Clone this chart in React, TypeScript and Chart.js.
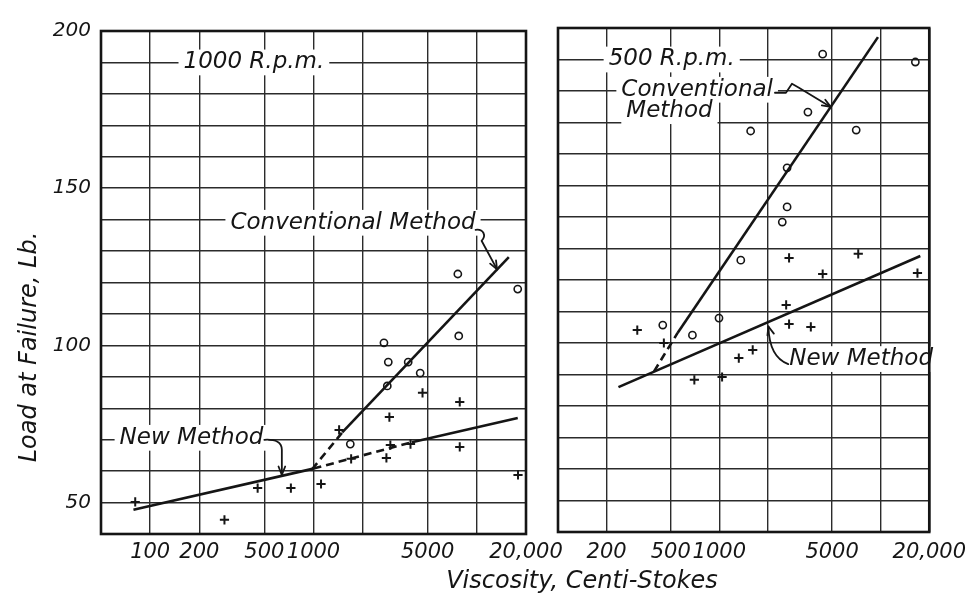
import React, { useEffect, useRef } from 'react';
import { Chart, registerables } from 'chart.js';

Chart.register(...registerables);

// ---------- Data: 1000 R.p.m. panel ----------
const conv1000X = [1680, 2700, 2830, 2870, 3800, 4500, 7650, 7750, 17800];
const conv1000Y = [68.6, 100.8, 87.1, 94.7, 94.7, 91.2, 122.7, 103, 117.9];
const new1000X = [81, 285, 455, 727, 1112, 1435, 1700, 2795, 2915, 2955, 3925, 4650, 7860, 7860, 17870];
const new1000Y = [50.2, 44.5, 54.6, 54.6, 55.9, 73.1, 63.9, 64.2, 77.2, 68.3, 68.6, 84.9, 82, 67.7, 58.8];
const convLine1000X = [980, 1500, 15700];
const convLine1000Y = [60.6, 72.3, 128.1];
const newLine1000X = [79, 1000, 4000, 17800];
const newLine1000Y = [47.7, 60.8, 69.2, 76.9];

// ---------- Data: 500 R.p.m. panel ----------
const conv500X = [446, 681, 995, 1358, 1563, 2455, 2630, 2630, 3540, 4370, 7050, 16400];
const conv500Y = [105.7, 102.5, 107.9, 126.3, 167.3, 138.4, 143.2, 155.6, 173.3, 191.7, 167.6, 189.2];
const new500X = [310, 453, 700, 1040, 1320, 1610, 2595, 2705, 2705, 3690, 4370, 7260, 16900];
const new500Y = [104.1, 100, 88.3, 89.2, 95.2, 97.8, 112.1, 106, 127, 105.1, 121.9, 128.3, 122.2];
const convLine500X = [394, 551, 9620];
const convLine500Y = [91, 103.2, 197.1];
const newLine500X = [237, 17600];
const newLine500Y = [86, 127.6];

// ---------- Axes ----------
const xTicksLeft = [50, 100, 200, 500, 1000, 2000, 5000, 10000, 20000];
const xLabelsLeft = ['', '100', '200', '500', '1000', '', '5000', '', '20,000'];
const xTicksRight = [100, 200, 500, 1000, 2000, 5000, 10000, 20000];
const xLabelsRight = ['', '200', '500', '1000', '', '5000', '', '20,000'];
const yMin = 40;
const yMax = 200;
const yStep = 10;
const yLabelValues = [50, 100, 150, 200];

const yTitle = 'Load at Failure, Lb.';
const xTitle = 'Viscosity, Centi-Stokes';

const W = 974;
const H = 601;
const FONT = '"DejaVu Sans", "Liberation Sans", sans-serif';
const INK = '#151515';
const GRID = '#2b2b2b';

type Area = { left: number; right: number; top: number; bottom: number };
type Note = { text: string; x: number; y: number };

const pts = (xs: number[], ys: number[]) => xs.map((x, i) => ({ x, y: ys[i] }));

function logInterp(xs: number[], ys: number[], x: number) {
  for (let i = 0; i < xs.length - 1; i++) {
    if (x >= xs[i] && x <= xs[i + 1]) {
      const t = (Math.log(x) - Math.log(xs[i])) / (Math.log(xs[i + 1]) - Math.log(xs[i]));
      return ys[i] + t * (ys[i + 1] - ys[i]);
    }
  }
  return ys[ys.length - 1];
}

function px(chart: any, x: number, y: number): [number, number] {
  return [chart.scales.x.getPixelForValue(x), chart.scales.y.getPixelForValue(y)];
}

function arrowHead(ctx: CanvasRenderingContext2D, fx: number, fy: number, tx: number, ty: number) {
  const a = Math.atan2(ty - fy, tx - fx);
  const s = 9;
  ctx.beginPath();
  ctx.moveTo(tx - s * Math.cos(a - 0.38), ty - s * Math.sin(a - 0.38));
  ctx.lineTo(tx, ty);
  ctx.lineTo(tx - s * Math.cos(a + 0.38), ty - s * Math.sin(a + 0.38));
  ctx.stroke();
}

type Box = { px: number; py: number; w: number };

function pointSet(xs: number[], ys: number[], style: 'circle' | 'cross') {
  return {
    data: pts(xs, ys),
    showLine: false,
    pointStyle: style,
    pointRadius: style === 'circle' ? 3.6 : 4.6,
    pointBorderWidth: style === 'circle' ? 1.6 : 2,
    pointBorderColor: INK,
    pointBackgroundColor: 'rgba(255,255,255,0)',
    borderColor: INK,
  };
}

function lineSet(xs: number[], ys: number[], dashedSegs: number[]) {
  return {
    data: pts(xs, ys),
    showLine: true,
    pointRadius: 0,
    borderWidth: 2.6,
    borderColor: INK,
    fill: false,
    segment: {
      borderDash: (c: any) => (dashedSegs.includes(c.p0DataIndex) ? [8, 5] : undefined),
    },
  };
}

type Spec = {
  area: Area;
  xMin: number;
  xMax: number;
  xTicks: number[];
  xLabels: string[];
  xPad: number;
  showY: boolean;
  datasets: any[];
  notes: Note[];
  arrows: (chart: any, ctx: CanvasRenderingContext2D, boxes: Box[]) => void;
  titles: boolean;
};

const NOTE_SIZE = 23;

function makePlugin(spec: Spec) {
  return {
    id: 'panelDecor',
    beforeDatasetsDraw(chart: any) {
      const ctx: CanvasRenderingContext2D = chart.ctx;
      const a = chart.chartArea;
      ctx.save();
      ctx.font = `italic ${NOTE_SIZE}px ${FONT}`;
      const boxes: Box[] = spec.notes.map((n) => {
        const [x, y] = px(chart, n.x, n.y);
        return { px: x, py: y, w: ctx.measureText(n.text).width };
      });
      ctx.fillStyle = '#ffffff';
      boxes.forEach((b) => ctx.fillRect(b.px - 5, b.py - NOTE_SIZE * 0.56, b.w + 10, NOTE_SIZE * 1.12));
      ctx.fillStyle = INK;
      ctx.textAlign = 'left';
      ctx.textBaseline = 'middle';
      spec.notes.forEach((n, i) => ctx.fillText(n.text, boxes[i].px, boxes[i].py));
      // frame
      ctx.strokeStyle = INK;
      ctx.lineWidth = 2.6;
      ctx.strokeRect(a.left, a.top, a.right - a.left, a.bottom - a.top);
      // arrows
      ctx.lineWidth = 1.8;
      ctx.lineCap = 'round';
      ctx.lineJoin = 'round';
      spec.arrows(chart, ctx, boxes);
      ctx.restore();
    },
    afterDraw(chart: any) {
      if (!spec.titles) return;
      const ctx: CanvasRenderingContext2D = chart.ctx;
      ctx.save();
      ctx.fillStyle = INK;
      ctx.font = `italic 24px ${FONT}`;
      ctx.textAlign = 'center';
      ctx.textBaseline = 'middle';
      ctx.fillText(xTitle, 582, 582);
      ctx.translate(30, 347);
      ctx.rotate(-Math.PI / 2);
      ctx.fillText(yTitle, 0, 0);
      ctx.restore();
    },
  };
}

function buildConfig(spec: Spec): any {
  const tickFont = { family: FONT, size: 20, style: 'italic' as const };
  return {
    type: 'scatter',
    data: { datasets: spec.datasets },
    options: {
      animation: false,
      responsive: false,
      devicePixelRatio: 1,
      events: [],
      layout: { padding: { left: 0, top: spec.area.top, right: W - spec.area.right, bottom: 0 } },
      plugins: { legend: { display: false }, tooltip: { enabled: false } },
      scales: {
        x: {
          type: 'logarithmic',
          min: spec.xMin,
          max: spec.xMax,
          afterBuildTicks: (s: any) => {
            s.ticks = spec.xTicks.map((v) => ({ value: v }));
          },
          afterFit: (s: any) => {
            s.height = H - spec.area.bottom;
          },
          ticks: {
            autoSkip: false,
            maxRotation: 0,
            minRotation: 0,
            padding: spec.xPad,
            color: INK,
            font: { ...tickFont, size: 21 },
            callback: (v: number) => {
              const i = spec.xTicks.indexOf(v);
              return i >= 0 ? spec.xLabels[i] : '';
            },
          },
          grid: { color: GRID, lineWidth: 1.4, drawTicks: false },
          border: { display: false },
        },
        y: {
          type: 'linear',
          min: yMin,
          max: yMax,
          afterFit: (s: any) => {
            s.width = spec.area.left;
          },
          ticks: {
            stepSize: yStep,
            padding: 10,
            color: INK,
            font: tickFont,
            callback: (v: number) => (spec.showY && yLabelValues.includes(v) ? String(v) : ''),
          },
          grid: { color: GRID, lineWidth: 1.4, drawTicks: false },
          border: { display: false },
        },
      },
    },
    plugins: [makePlugin(spec)],
  };
}

const leftSpec: Spec = {
  area: { left: 101, right: 526, top: 31, bottom: 534 },
  xMin: 50,
  xMax: 20000,
  xTicks: xTicksLeft,
  xLabels: xLabelsLeft,
  xPad: 6,
  showY: true,
  titles: true,
  datasets: [
    lineSet(newLine1000X, newLine1000Y, [1]),
    lineSet(convLine1000X, convLine1000Y, [0]),
    pointSet(conv1000X, conv1000Y, 'circle'),
    pointSet(new1000X, new1000Y, 'cross'),
  ],
  notes: [
    { text: '1000 R.p.m.', x: 160, y: 190 },
    { text: 'Conventional Method', x: 310, y: 139 },
    { text: 'New Method', x: 65, y: 70.6 },
  ],
  arrows: (chart, ctx, boxes) => {
    // Conventional Method arrow
    {
      const b = boxes[1];
      const ex = b.px + b.w;
      const cy = b.py;
      const tx = 13300;
      const [tX, tY] = px(chart, tx, logInterp(convLine1000X, convLine1000Y, tx));
      ctx.beginPath();
      ctx.moveTo(ex, cy + 7);
      ctx.bezierCurveTo(ex + 8, cy + 6, ex + 11, cy + 13, ex + 6, cy + 18);
      ctx.lineTo(tX, tY);
      ctx.stroke();
      arrowHead(ctx, ex + 6, cy + 18, tX, tY);
    }
    // New Method arrow
    {
      const b = boxes[2];
      const ex = b.px + b.w;
      const cy = b.py;
      const tx = 640;
      const [tX, tY] = px(chart, tx, logInterp(newLine1000X, newLine1000Y, tx));
      ctx.beginPath();
      ctx.moveTo(ex + 1, cy + 2);
      ctx.quadraticCurveTo(tX, cy + 1, tX, cy + 12);
      ctx.lineTo(tX, tY - 1);
      ctx.stroke();
      arrowHead(ctx, tX, cy + 12, tX, tY - 1);
    }
  },
};

const rightSpec: Spec = {
  area: { left: 558, right: 937, top: 28, bottom: 532 },
  xMin: 100,
  xMax: 20000,
  xTicks: xTicksRight,
  xLabels: xLabelsRight,
  xPad: 8,
  showY: false,
  titles: false,
  datasets: [
    lineSet(newLine500X, newLine500Y, []),
    lineSet(convLine500X, convLine500Y, [0]),
    pointSet(conv500X, conv500Y, 'circle'),
    pointSet(new500X, new500Y, 'cross'),
  ],
  notes: [
    { text: '500 R.p.m.', x: 206, y: 190 },
    { text: 'Conventional', x: 247, y: 180.4 },
    { text: 'Method', x: 265, y: 173.6 },
    { text: 'New Method', x: 2712, y: 94.9 },
  ],
  arrows: (chart, ctx, boxes) => {
    {
      const b = boxes[1];
      const ex = b.px + b.w;
      const cy = b.py;
      const tx = 4900;
      const [tX, tY] = px(chart, tx, logInterp(convLine500X, convLine500Y, tx));
      ctx.beginPath();
      ctx.moveTo(ex + 2, cy + 3);
      ctx.lineTo(ex + 13, cy + 3);
      ctx.lineTo(ex + 19, cy - 6);
      ctx.lineTo(ex + 26, cy - 2);
      ctx.lineTo(tX, tY);
      ctx.stroke();
      arrowHead(ctx, ex + 26, cy - 2, tX, tY);
    }
    {
      const b = boxes[3];
      const sx = b.px;
      const cy = b.py;
      const tx = 1986;
      const [tX, tY] = px(chart, tx, logInterp(newLine500X, newLine500Y, tx));
      ctx.beginPath();
      ctx.moveTo(sx - 1, cy + 5);
      ctx.quadraticCurveTo(sx - 20, cy - 2, tX + 1, tY + 4);
      ctx.stroke();
      arrowHead(ctx, sx - 14, cy - 8, tX + 1, tY + 4);
    }
  },
};

function Panel({ spec }: { spec: Spec }) {
  const ref = useRef<HTMLCanvasElement>(null);
  useEffect(() => {
    const chart = new Chart(ref.current as HTMLCanvasElement, buildConfig(spec));
    return () => chart.destroy();
  }, [spec]);
  return (
    <canvas
      ref={ref}
      width={W}
      height={H}
      style={{ position: 'absolute', left: 0, top: 0, width: W, height: H }}
    />
  );
}

export default function App() {
  return (
    <div
      style={{
        position: 'absolute',
        left: 0,
        top: 0,
        width: W,
        height: H,
        background: '#ffffff',
        overflow: 'hidden',
      }}
    >
      <Panel spec={leftSpec} />
      <Panel spec={rightSpec} />
    </div>
  );
}
